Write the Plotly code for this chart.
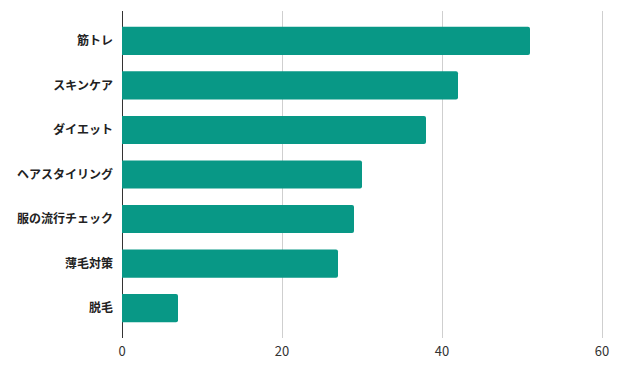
import plotly.graph_objects as go

categories = ["筋トレ", "スキンケア", "ダイエット", "ヘアスタイリング", "服の流行チェック", "薄毛対策", "脱毛"]
values = [51, 42, 38, 30, 29, 27, 7]
x_ticks = [0, 20, 40, 60]

fig = go.Figure(go.Bar(
    x=values,
    y=categories,
    orientation="h",
    marker=dict(color="#089886", line=dict(width=0)),
    hoverinfo="x+y",
))

# The page body adds an 8px offset; margins compensate for it.
fig.update_layout(
    width=640, height=368,
    margin=dict(l=114, r=34, t=3, b=38, autoexpand=False),
    paper_bgcolor="white",
    plot_bgcolor="white",
    bargap=0.37,
    barcornerradius=2,
    font=dict(family="Noto Sans CJK JP, sans-serif", size=13, color="#333333"),
    showlegend=False,
)
fig.update_xaxes(
    range=[0, 61.5],
    tickvals=x_ticks,
    ticktext=[str(v) for v in x_ticks],
    showgrid=True, gridcolor="#cfcfcf", gridwidth=1,
    zeroline=True, zerolinecolor="#333333", zerolinewidth=1,
    ticks="", tickfont=dict(size=13, color="#333333"),
    ticklabelstandoff=4,
    fixedrange=True,
)
fig.update_yaxes(
    categoryorder="array", categoryarray=categories,
    autorange=False, range=[6.67, -0.67],
    showgrid=False, zeroline=False,
    ticks="", ticklabelstandoff=8,
    tickfont=dict(size=12, color="#222222", weight="bold"),
    automargin=False,
    fixedrange=True,
)

fig.write_html("out.html")
